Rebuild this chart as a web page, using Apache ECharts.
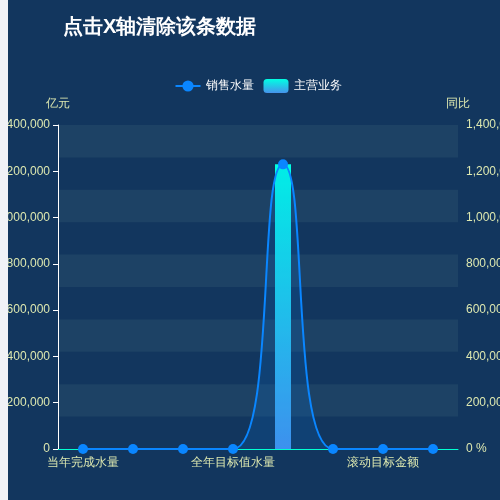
<!DOCTYPE html>
<html>
<head>
<meta charset="utf-8">
<script src="https://cdn.jsdelivr.net/npm/echarts@6/dist/echarts.min.js"></script>
<style>
html, body { margin: 0; padding: 0; background: #f0f2f7; width: 500px; height: 500px; overflow: hidden; }
#chart { position: absolute; left: 8px; top: 0; width: 500px; height: 500px; background: #12365e; }
</style>
</head>
<body>
<div id="chart"></div>
<script>
var titleText = '点击X轴清除该条数据';
var categories = ['当年完成水量', '去年完成水量', '滚动目标值水量', '全年目标值水量', '当年完成金额', '去年完成金额', '滚动目标金额', '全年目标金额'];
var salesVolume = [0, 0, 0, 0, 1230000, 0, 0, 0];
var mainBusiness = [0, 0, 0, 0, 1230000, 0, 0, 0];
var leftAxisName = '亿元';
var rightAxisName = '同比';
var legendNames = ['销售水量', '主营业务'];

var labelColor = '#dde8b0';
var chart = echarts.init(document.getElementById('chart'));
chart.setOption({
  animation: false,
  backgroundColor: '#12365e',
  title: {
    text: titleText,
    left: 50,
    top: 12,
    textStyle: { color: '#ffffff', fontSize: 20, fontWeight: 'bold' }
  },
  legend: {
    top: 74,
    left: 'center',
    itemWidth: 25,
    itemHeight: 14,
    itemGap: 10,
    textStyle: { color: '#ffffff', fontSize: 12 },
    data: legendNames
  },
  grid: { left: 50, right: 50, top: 125, bottom: 51, containLabel: false, outerBoundsMode: 'none' },
  xAxis: {
    type: 'category',
    data: categories,
    axisLine: { lineStyle: { color: '#00ffd2' } },
    axisTick: {
      lineStyle: { color: '#00ffd2' },
      interval: function (index) { return index % 3 === 2; }
    },
    axisLabel: { color: labelColor, fontSize: 12, interval: 2 },
    splitLine: { show: false }
  },
  yAxis: [
    {
      type: 'value',
      name: leftAxisName,
      min: 0, max: 1400000, interval: 200000,
      nameTextStyle: { color: labelColor, fontSize: 12 },
      axisLine: { show: true, lineStyle: { color: '#ffffff' } },
      axisTick: { show: true, lineStyle: { color: '#ffffff' } },
      axisLabel: { color: labelColor, fontSize: 12 },
      splitLine: { show: false },
      splitArea: { show: false }
    },
    {
      type: 'value',
      name: rightAxisName,
      position: 'right',
      min: 0, max: 1400000, interval: 200000,
      nameTextStyle: { color: labelColor, fontSize: 12 },
      axisLine: { show: false },
      axisTick: { show: false },
      axisLabel: { color: labelColor, fontSize: 12, formatter: '{value} %' },
      splitLine: { show: false },
      splitArea: { show: false }
    },
    {
      type: 'value',
      position: 'left',
      min: 0, max: 1400000, interval: 140000,
      axisLine: { show: false },
      axisTick: { show: false },
      axisLabel: { show: false },
      splitLine: { show: false },
      splitArea: { show: true, areaStyle: { color: ['rgba(0,0,0,0)', '#1d4265'] } }
    }
  ],
  series: [
    {
      name: legendNames[0],
      type: 'line',
      yAxisIndex: 1,
      smooth: true,
      z: 3,
      symbol: 'circle',
      symbolSize: 10,
      showSymbol: true,
      itemStyle: { color: '#0a86ff' },
      lineStyle: { color: '#0a86ff', width: 2 },
      areaStyle: { color: 'rgba(10,134,255,0.2)' },
      data: salesVolume
    },
    {
      name: legendNames[1],
      type: 'bar',
      yAxisIndex: 0,
      barWidth: 16,
      z: 2,
      itemStyle: {
        color: new echarts.graphic.LinearGradient(0, 0, 0, 1, [
          { offset: 0, color: '#00FFE3' },
          { offset: 1, color: '#4693EC' }
        ])
      },
      data: mainBusiness
    }
  ]
});
</script>
</body>
</html>
